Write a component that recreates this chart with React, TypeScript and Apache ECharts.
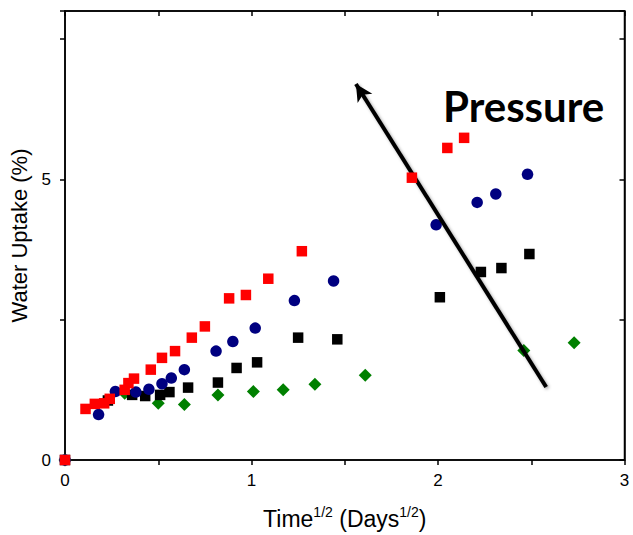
import React, { useEffect, useRef } from "react";
import * as echarts from "echarts";

const redData: [number, number][] = [
  [0, 0], [0.11, 0.91], [0.16, 1.0], [0.21, 1.01], [0.24, 1.09], [0.32, 1.25],
  [0.34, 1.37], [0.37, 1.45], [0.46, 1.61], [0.52, 1.82], [0.59, 1.94],
  [0.68, 2.18], [0.75, 2.38], [0.88, 2.88], [0.97, 2.94], [1.09, 3.23],
  [1.27, 3.72], [1.86, 5.03], [2.05, 5.56], [2.14, 5.74],
];
const blueData: [number, number][] = [
  [0, 0], [0.18, 0.81], [0.27, 1.22], [0.38, 1.21], [0.45, 1.26], [0.52, 1.36],
  [0.57, 1.46], [0.64, 1.61], [0.81, 1.94], [0.9, 2.11], [1.02, 2.35],
  [1.23, 2.84], [1.44, 3.19], [1.99, 4.19], [2.21, 4.59], [2.31, 4.74], [2.48, 5.09],
];
const blackData: [number, number][] = [
  [0, 0], [0.23, 1.06], [0.36, 1.16], [0.43, 1.14], [0.51, 1.16], [0.56, 1.21],
  [0.66, 1.29], [0.82, 1.38], [0.92, 1.64], [1.03, 1.74], [1.25, 2.18],
  [1.46, 2.15], [2.01, 2.9], [2.23, 3.35], [2.34, 3.42], [2.49, 3.67],
];
const greenData: [number, number][] = [
  [0, 0], [0.32, 1.19], [0.5, 1.01], [0.64, 0.99], [0.82, 1.16], [1.01, 1.22],
  [1.17, 1.25], [1.34, 1.35], [1.61, 1.51], [2.46, 1.95], [2.73, 2.09],
];
const arrowTail: [number, number] = [2.58, 1.3];
const arrowHead: [number, number] = [1.56, 6.7];
const xLabels = [0, 1, 2, 3];
const yLabels = [0, 5];

export default function App() {
  const ref = useRef<HTMLDivElement>(null);
  useEffect(() => {
    if (!ref.current) return;
    const chart = echarts.init(ref.current, null, { renderer: "svg" });
    const axisFont = "Liberation Sans";
    const ls = () => ({ color: "#000", width: 1.5 });
    chart.setOption({
      animation: false,
      backgroundColor: "#fff",
      grid: {
        left: 65,
        right: 8.5,
        top: 11,
        bottom: 75,
        show: true,
        borderColor: "#000",
        borderWidth: 1.5,
        backgroundColor: "transparent",
      },
      xAxis: [
        {
          type: "value",
          min: 0,
          max: 3,
          interval: 0.5,
          position: "bottom",
          axisLine: { show: true, onZero: false, lineStyle: ls() },
          axisTick: { show: true, inside: false, length: 5, lineStyle: ls() },
          splitLine: { show: false },
          axisLabel: {
            margin: 12,
            color: "#000",
            fontSize: 17,
            fontFamily: axisFont,
            formatter: (v: number) => (xLabels.includes(v) ? String(v) : ""),
          },
          name: "{a|Time}{s|1/2}{a| (Days}{s|1/2}{a|)}",
          nameLocation: "middle",
          nameGap: 45,
          nameTextStyle: {
            rich: {
              a: { fontSize: 23, fontFamily: axisFont, color: "#000", lineHeight: 27 },
              s: { fontSize: 14, fontFamily: axisFont, color: "#000", lineHeight: 15, verticalAlign: "top" },
            },
          },
        },
        {
          type: "value",
          min: 0,
          max: 3,
          interval: 0.5,
          position: "top",
          axisLine: { show: true, onZero: false, lineStyle: ls() },
          axisTick: { show: true, inside: true, length: 5, lineStyle: ls() },
          splitLine: { show: false },
          axisLabel: { show: true, inside: true, fontSize: 8, color: "rgba(0,0,0,0)" },
        },
      ],
      yAxis: [
        {
          type: "value",
          min: 0,
          max: 8,
          interval: 2.5,
          position: "left",
          axisLine: { show: true, onZero: false, lineStyle: ls() },
          axisTick: { show: true, inside: false, length: 5, lineStyle: ls() },
          splitLine: { show: false },
          axisLabel: {
            margin: 14,
            color: "#000",
            fontSize: 17,
            fontFamily: axisFont,
            formatter: (v: number) => (yLabels.includes(v) ? String(v) : ""),
          },
          name: "Water Uptake (%)",
          nameLocation: "middle",
          nameGap: 30,
          nameTextStyle: { fontSize: 22, fontFamily: axisFont, color: "#000" },
        },
        {
          type: "value",
          min: 0,
          max: 8,
          interval: 2.5,
          position: "right",
          axisLine: { show: true, onZero: false, lineStyle: ls() },
          axisTick: { show: true, inside: true, length: 5, lineStyle: ls() },
          splitLine: { show: false },
          axisLabel: { show: true, inside: true, fontSize: 8, color: "rgba(0,0,0,0)" },
        },
      ],
      series: [
        {
          type: "scatter",
          name: "green",
          data: greenData,
          xAxisIndex: 1,
          yAxisIndex: 1,
          symbol: "diamond",
          symbolSize: 13,
          itemStyle: { color: "#008000", opacity: 1 },
          z: 2,
        },
        {
          type: "scatter",
          name: "black",
          data: blackData,
          symbol: "rect",
          symbolSize: 10.5,
          itemStyle: { color: "#000000", opacity: 1 },
          z: 3,
        },
        {
          type: "scatter",
          name: "blue",
          data: blueData,
          symbol: "circle",
          symbolSize: 11.5,
          itemStyle: { color: "#000080", opacity: 1 },
          z: 4,
        },
        {
          type: "scatter",
          name: "red",
          data: redData,
          symbol: "rect",
          symbolSize: 10.5,
          itemStyle: { color: "#ff0000", opacity: 1 },
          z: 5,
          markLine: {
            silent: true,
            symbol: ["none", "arrow"],
            symbolSize: [13, 17],
            label: { show: false },
            lineStyle: {
              color: "#000",
              width: 4,
              type: "solid",
              shadowColor: "rgba(0,0,0,0.35)",
              shadowBlur: 3,
              shadowOffsetX: 1.5,
              shadowOffsetY: 1.5,
            },
            data: [[{ coord: arrowTail }, { coord: arrowHead }]],
          },
        },
      ],
      graphic: [
        {
          type: "text",
          left: 443,
          top: 85,
          style: {
            text: "Pressure",
            font: "bold 42px Lato, 'Open Sans', sans-serif",
            fill: "#000",
          },
        },
      ],
    });
    return () => chart.dispose();
  }, []);
  return (
    <div
      ref={ref}
      style={{ position: "fixed", left: 0, top: 0, width: 633, height: 535 }}
    />
  );
}
